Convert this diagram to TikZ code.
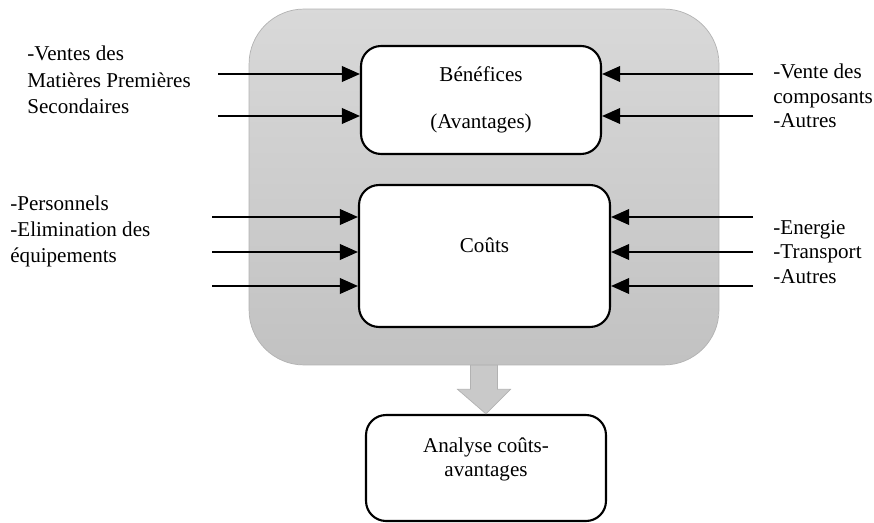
\documentclass[tikz,border=0pt]{standalone}
\usepackage{fontspec}
\setmainfont{Liberation Serif}
\usetikzlibrary{arrows.meta,calc}

\begin{document}
\begin{tikzpicture}[x=0.02cm, y=-0.02cm, font=\fontsize{12}{14}\selectfont,
  boite/.style={draw, line width=1.2pt, rounded corners=0.4cm, fill=white, align=center, inner sep=0pt},
  fleche/.style={line width=1.1pt, -{Triangle[length=0.36cm, width=0.31cm]}},
  liste/.style={align=left, inner sep=0pt, anchor=west}]
  \useasboundingbox (0,0) rectangle (874,523);
  \node[draw=black!30, top color=black!15, bottom color=black!24, rounded corners=1.1cm, minimum width=9.4cm, minimum height=7.12cm] (bloc) at (484,187) {};
  \node[boite, minimum width=4.8cm, minimum height=2.16cm] (benef) at (481,100) {Bénéfices\\[12.7pt](Avantages)};
  \node[boite, minimum width=5.02cm, minimum height=2.84cm, text depth=0.44cm] (couts) at (484.5,256) {Coûts};
  \node[boite, minimum width=4.8cm, minimum height=2.12cm, text depth=0.43cm] (analyse) at (486,468) {Analyse coûts-\\avantages};
  \filldraw[draw=black!30, fill=black!21] ($(bloc.south)+(-13.5,0)$) -- ++(0,24) -- ++(-13,0) -- (analyse.north) -- ($(bloc.south)+(26.5,24)$) -- ++(-13,0) -- ($(bloc.south)+(13.5,0)$) -- cycle;

  \node[liste, font=\fontsize{12}{15}\selectfont] (ventes) at (27,80) {-Ventes des\\Matières Premières\\Secondaires};
  \node[liste, font=\fontsize{12}{15}\selectfont] (personnels) at (10,231.5) {-Personnels\\-Elimination des\\équipements};
  \node[liste] (composants) at (773,96) {-Vente des\\composants\\-Autres};
  \node[liste] (energie) at (773,252) {-Energie\\-Transport\\-Autres};

  \coordinate (g1) at (218,74);
  \coordinate (g2) at (218,116);
  \coordinate (g3) at (212,217);
  \coordinate (g4) at (212,252);
  \coordinate (g5) at (212,286);
  \coordinate (d1) at (753,74);
  \coordinate (d2) at (753,116);
  \coordinate (d3) at (753,217);
  \coordinate (d4) at (753,252);
  \coordinate (d5) at (753,286);
  \draw[fleche] (g1) -- (g1 -| benef.west);
  \draw[fleche] (g2) -- (g2 -| benef.west);
  \draw[fleche] (d1) -- (d1 -| benef.east);
  \draw[fleche] (d2) -- (d2 -| benef.east);
  \draw[fleche] (g3) -- (g3 -| couts.west);
  \draw[fleche] (g4) -- (g4 -| couts.west);
  \draw[fleche] (g5) -- (g5 -| couts.west);
  \draw[fleche] (d3) -- (d3 -| couts.east);
  \draw[fleche] (d4) -- (d4 -| couts.east);
  \draw[fleche] (d5) -- (d5 -| couts.east);
\end{tikzpicture}
\end{document}
